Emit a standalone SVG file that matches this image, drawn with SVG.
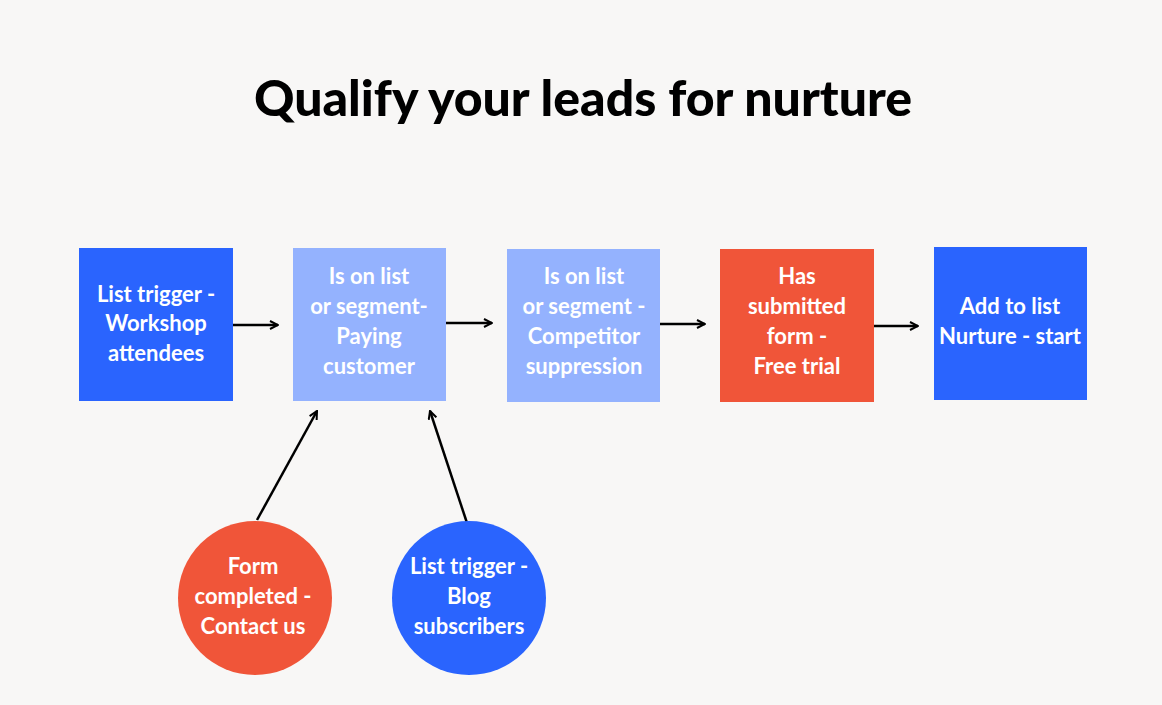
<svg xmlns="http://www.w3.org/2000/svg" width="1162" height="705" viewBox="0 0 1162 705">
<defs>
<marker id="ah" viewBox="0 0 10 10" refX="9" refY="5" markerWidth="10" markerHeight="10" markerUnits="userSpaceOnUse" orient="auto">
<path d="M1,1 L9,5 L1,9" fill="none" stroke="#000" stroke-width="2"/>
</marker>
<style>
.t{font-family:"Lato","Liberation Sans",sans-serif;font-weight:bold;font-size:22px;fill:#fff;text-anchor:middle}
.title{font-family:"Lato","Liberation Sans",sans-serif;font-weight:900;font-size:50px;fill:#000;text-anchor:middle}
.c{stroke:#000;stroke-width:2.5;fill:none;marker-end:url(#ah)}
</style>
</defs>
<rect width="1162" height="705" fill="#F8F7F6"/>
<text class="title" x="583" y="116">Qualify your leads for nurture</text>
<g id="connectors">
<line class="c" x1="233" y1="325" x2="278" y2="325"/>
<line class="c" x1="446" y1="323" x2="492" y2="323"/>
<line class="c" x1="660" y1="324" x2="705" y2="324"/>
<line class="c" x1="874" y1="326" x2="918" y2="326"/>
<line class="c" x1="257" y1="520" x2="317" y2="411"/>
<line class="c" x1="467" y1="523" x2="430" y2="411"/>
</g>
<g id="n1"><rect x="79" y="248" width="154" height="153" fill="#2A64FE"/>
<text class="t"><tspan x="156" y="302">List trigger -</tspan><tspan x="156" y="331">Workshop</tspan><tspan x="156" y="361">attendees</tspan></text></g>
<g id="n2"><rect x="293" y="248" width="153" height="153" fill="#94B2FE"/>
<text class="t"><tspan x="369" y="284">Is on list</tspan><tspan x="369" y="314">or segment-</tspan><tspan x="369" y="344">Paying</tspan><tspan x="369" y="374">customer</tspan></text></g>
<g id="n3"><rect x="507" y="249" width="153" height="153" fill="#94B2FE"/>
<text class="t"><tspan x="584" y="284">Is on list</tspan><tspan x="584" y="314">or segment -</tspan><tspan x="584" y="344">Competitor</tspan><tspan x="584" y="374">suppression</tspan></text></g>
<g id="n4"><rect x="720" y="249" width="154" height="153" fill="#F05539"/>
<text class="t"><tspan x="797" y="284">Has</tspan><tspan x="797" y="314">submitted</tspan><tspan x="797" y="344">form -</tspan><tspan x="797" y="374">Free trial</tspan></text></g>
<g id="n5"><rect x="934" y="247" width="153" height="153" fill="#2A64FE"/>
<text class="t"><tspan x="1010" y="314">Add to list</tspan><tspan x="1010" y="344">Nurture - start</tspan></text></g>
<g id="n6"><circle cx="255" cy="598" r="77" fill="#F05539"/>
<text class="t"><tspan x="253" y="574">Form</tspan><tspan x="253" y="604">completed -</tspan><tspan x="253" y="634">Contact us</tspan></text></g>
<g id="n7"><circle cx="469" cy="598" r="77" fill="#2A64FE"/>
<text class="t"><tspan x="469" y="574">List trigger -</tspan><tspan x="469" y="604">Blog</tspan><tspan x="469" y="634">subscribers</tspan></text></g>
</svg>
